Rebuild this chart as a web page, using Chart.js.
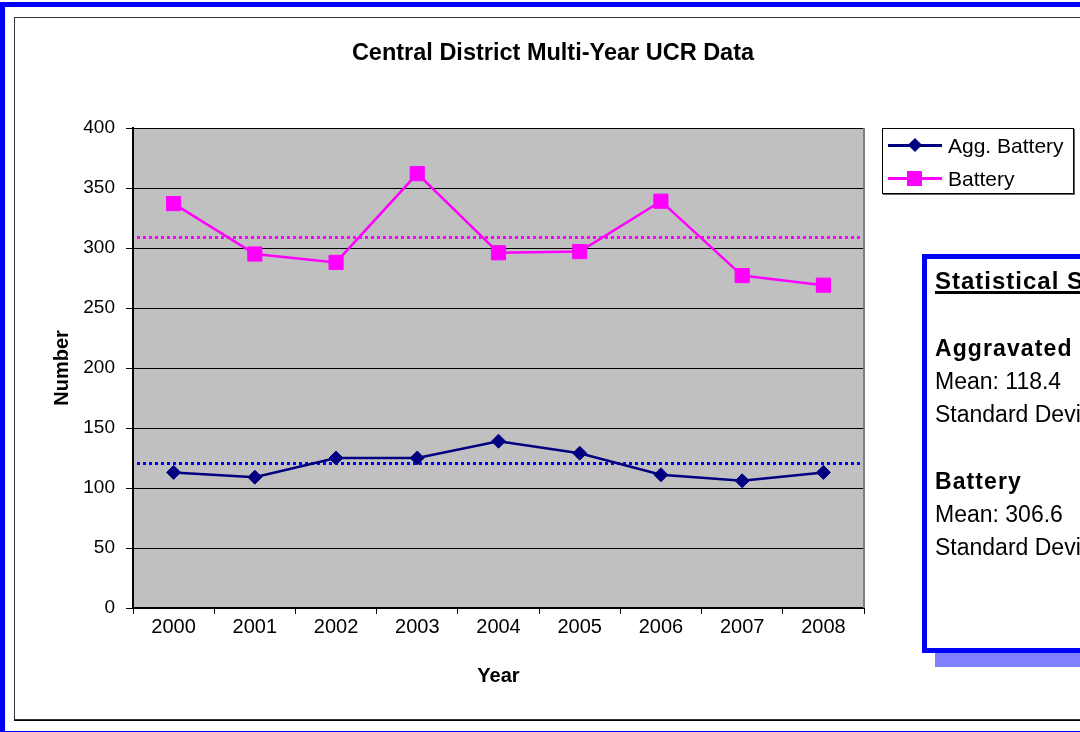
<!DOCTYPE html>
<html>
<head>
<meta charset="utf-8">
<script src="https://cdn.jsdelivr.net/npm/chart.js"></script>
<style>
  html, body { margin: 0; padding: 0; width: 1080px; height: 732px; overflow: hidden; background: #fff; font-family: 'Liberation Sans', Arial, sans-serif; color: #000; }
  #moldura { position: absolute; left: 0; top: 2px; width: 1200px; height: 734px; border: 5px solid #0000FF; box-sizing: border-box; }
  #quadro { position: absolute; left: 14px; top: 17px; width: 1100px; height: 703px; border: 1px solid #333; box-sizing: border-box; box-shadow: 0 1px 0 #000; background: #fff; }
  #grafico { position: absolute; left: 15px; top: 18px; }
  #titulo { position: absolute; left: 0; top: 38px; width: 1106px; text-align: center; font-weight: bold; font-size: 23.5px; line-height: 28px; }
  #legenda { position: absolute; left: 882px; top: 128px; width: 192px; height: 66px; box-sizing: border-box; border: 1px solid #000; box-shadow: 1px 1px 0 #666; background: #fff; }
  .item { position: relative; height: 33px; font-size: 21px; line-height: 33px; }
  .item .linha { position: absolute; left: 5px; top: 15px; width: 54px; height: 3px; }
  .item .marca { position: absolute; }
  .item span { position: absolute; left: 65px; top: 0; white-space: nowrap; }
  #resumo { position: absolute; left: 922px; top: 254px; width: 420px; height: 399px; box-sizing: border-box; border: 5px solid #0000FF; background: #fff; box-shadow: 13px 14px 0 #8080FF; padding: 5px 0 0 8px; font-size: 23px; line-height: 33px; white-space: nowrap; }
  #resumo .cab { font-size: 24px; font-weight: bold; letter-spacing: 1px; text-decoration: underline; text-decoration-thickness: 3px; }
  #resumo .neg { font-size: 23px; font-weight: bold; letter-spacing: 1.1px; }
</style>
</head>
<body>
<div id="moldura"></div>
<div id="quadro"></div>
<canvas id="grafico" width="1065" height="702"></canvas>
<div id="titulo">Central District Multi-Year UCR Data</div>
<div id="legenda">
  <div class="item"><div class="linha" style="background:#000080"></div><div class="marca" style="left:27px;top:11px;width:10px;height:10px;background:#000080;transform:rotate(45deg)"></div><span>Agg. Battery</span></div>
  <div class="item"><div class="linha" style="background:#FF00FF"></div><div class="marca" style="left:24px;top:9px;width:15px;height:15px;background:#FF00FF"></div><span>Battery</span></div>
</div>
<div id="resumo">
  <div class="cab">Statistical Summary</div>
  <div style="height:35px"></div>
  <div class="neg">Aggravated Battery</div>
  <div>Mean: 118.4</div>
  <div>Standard Deviation:</div>
  <div style="height:34px"></div>
  <div class="neg">Battery</div>
  <div>Mean: 306.6</div>
  <div>Standard Deviation:</div>
</div>
<script>
var anos = ['2000', '2001', '2002', '2003', '2004', '2005', '2006', '2007', '2008'];
var aggBattery = [113, 109, 125, 125, 139, 129, 111, 106, 113];
var battery = [337, 295, 288, 362, 296, 297, 339, 277, 269];

// linhas pontilhadas (nivel)
var nivelAgg = 121;
var nivelBattery = 309;

var yMin = 0;
var yMax = 400;
var yPasso = 50;

var fonte = "'Liberation Sans', Arial, sans-serif";

// fundo cinza da area do grafico + borda direita
var fundoPlot = {
    id: 'fundoPlot',
    beforeDraw: function (chart) {
        var c = chart.ctx;
        var a = chart.chartArea;
        c.save();
        c.fillStyle = '#C0C0C0';
        c.fillRect(a.left, a.top, a.right - a.left, a.bottom - a.top);
        c.restore();
    },
    beforeDatasetsDraw: function (chart) {
        var c = chart.ctx;
        var a = chart.chartArea;
        c.save();
        c.strokeStyle = '#808080';
        c.lineWidth = 2;
        c.beginPath();
        c.moveTo(a.right, a.top);
        c.lineTo(a.right, a.bottom);
        c.stroke();
        c.restore();
    }
};

var linhasMedia = {
    id: 'linhasMedia',
    beforeDatasetsDraw: function (chart) {
        var c = chart.ctx;
        var a = chart.chartArea;
        var y = chart.scales.y;
        var linhas = [[nivelAgg, '#0000FF'], [nivelBattery, '#FF00FF']];
        for (let i = 0; i < linhas.length; i++) {
            var py = Math.round(y.getPixelForValue(linhas[i][0])) + 0.5;
            c.save();
            c.strokeStyle = linhas[i][1];
            c.lineWidth = 3;
            c.setLineDash([3, 3]);
            c.beginPath();
            c.moveTo(a.left + 4, py);
            c.lineTo(a.right - 1, py);
            c.stroke();
            c.restore();
        }
    }
};

var ctxGrafico = document.getElementById('grafico');

new Chart(ctxGrafico, {
    type: 'line',
    data: {
        labels: anos,
        datasets: [{
            label: 'Agg. Battery',
            data: aggBattery,
            borderColor: '#000080',
            backgroundColor: '#000080',
            borderWidth: 2.5,
            pointStyle: 'rectRot',
            pointRadius: 7,
            pointBorderWidth: 1,
            pointBackgroundColor: '#000080',
            pointBorderColor: '#000080',
            tension: 0
        }, {
            label: 'Battery',
            data: battery,
            borderColor: '#FF00FF',
            backgroundColor: '#FF00FF',
            borderWidth: 2.5,
            pointStyle: 'rect',
            pointRadius: 10,
            pointBorderWidth: 1,
            pointBackgroundColor: '#FF00FF',
            pointBorderColor: '#FF00FF',
            tension: 0
        }]
    },
    options: {
        responsive: false,
        animation: false,
        layout: {
            padding: { top: 110, right: 216, bottom: 0, left: 0 }
        },
        plugins: {
            legend: { display: false },
            title: { display: false },
            tooltip: { enabled: false }
        },
        scales: {
            x: {
                offset: true,
                grid: {
                    offset: true,
                    drawOnChartArea: false,
                    tickLength: 6,
                    color: '#000'
                },
                border: { color: '#000', width: 2 },
                ticks: {
                    color: '#000',
                    padding: 1,
                    font: { family: fonte, size: 20 }
                },
                title: {
                    display: true,
                    text: 'Year',
                    color: '#000',
                    font: { family: fonte, size: 20, weight: 'bold' },
                    padding: { top: 0, bottom: 32 }
                },
                afterFit: function (s) { s.height = 112; }
            },
            y: {
                min: yMin,
                max: yMax,
                ticks: {
                    stepSize: yPasso,
                    color: '#000',
                    padding: 11,
                    font: { family: fonte, size: 19 }
                },
                grid: {
                    color: '#000',
                    tickLength: 7
                },
                border: { color: '#000', width: 2 },
                title: {
                    display: true,
                    text: 'Number',
                    color: '#000',
                    font: { family: fonte, size: 20, weight: 'bold' },
                    padding: { top: 35, bottom: 0 }
                },
                afterFit: function (s) { s.width = 118; }
            }
        }
    },
    plugins: [fundoPlot, linhasMedia]
});
</script>
</body>
</html>
